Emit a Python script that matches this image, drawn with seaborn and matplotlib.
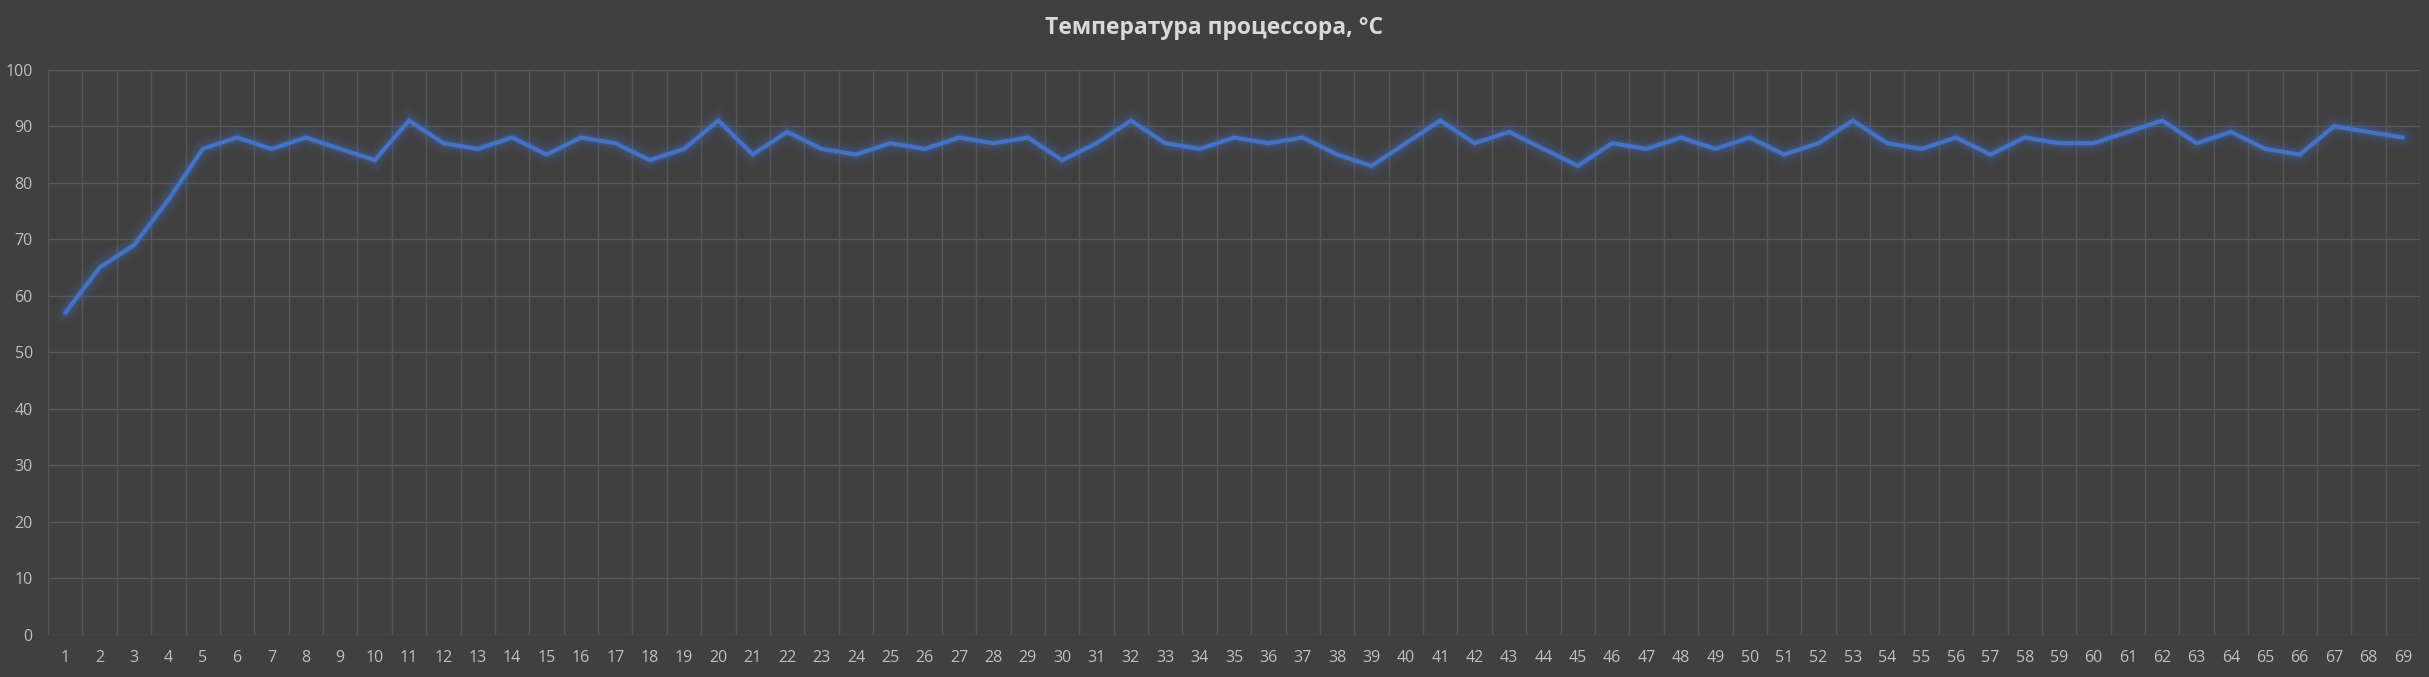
import matplotlib
matplotlib.use("Agg")
import matplotlib.pyplot as plt
import matplotlib.patheffects as pe
import seaborn as sns
import pandas as pd
import numpy as np

title = "Температура процессора, °C"
samples = list(range(1, 70))
temps = [57, 65, 69, 77, 86, 88, 86, 88, 86, 84,
         91, 87, 86, 88, 85, 88, 87, 84, 86, 91,
         85, 89, 86, 85, 87, 86, 88, 87, 88, 84,
         87, 91, 87, 86, 88, 87, 88, 85, 83, 87,
         91, 87, 89, 86, 83, 87, 86, 88, 86, 88,
         85, 87, 91, 87, 86, 88, 85, 88, 87, 87,
         89, 91, 87, 89, 86, 85, 90, 89, 88]
y_ticks = list(range(0, 101, 10))

df = pd.DataFrame({"n": samples, "t": temps})

sns.set_theme(style="dark")
plt.rcParams['font.family'] = ['Open Sans', 'DejaVu Sans']

BG = "#404040"
fig = plt.figure(figsize=(24.29, 6.77), dpi=100, facecolor=BG)
ax = fig.add_axes([0.0198, 0.062, 0.9765, 0.835])
ax.set_facecolor(BG)

line_color = "#4472C4"
sns.lineplot(data=df, x="n", y="t", ax=ax, color=line_color, linewidth=2.9)
ln = ax.lines[0]
ln.set_path_effects([
    pe.Stroke(linewidth=16, foreground=line_color, alpha=0.06),
    pe.Stroke(linewidth=12, foreground=line_color, alpha=0.08),
    pe.Stroke(linewidth=8, foreground=line_color, alpha=0.12),
    pe.Stroke(linewidth=5, foreground=line_color, alpha=0.2),
    pe.Normal(),
])
ln.set_solid_capstyle("round")
ln.set_solid_joinstyle("miter")

ax.set_xlim(0.5, 69.5)
ax.set_ylim(0, 100)
ax.set_xticks(samples)
ax.set_xticklabels([str(s) for s in samples])
ax.set_xticks(np.arange(0.5, 70, 1.0), minor=True)
ax.set_yticks(y_ticks)
ax.set_yticklabels([str(v) for v in y_ticks])

ax.grid(False)
ax.grid(which="minor", axis="x", color="#555555", linewidth=1.0)
ax.grid(which="major", axis="y", color="#585858", linewidth=1.0)
ax.set_axisbelow(True)

ax.tick_params(axis="both", which="both", length=0, colors="#bfbfbf", labelsize=11.5)
ax.tick_params(axis="x", pad=11)
ax.tick_params(axis="y", pad=11)
for s in ax.spines.values():
    s.set_visible(False)
ax.set_xlabel("")
ax.set_ylabel("")

fig.text(0.5, 1 - 28 / 677, title, ha="center", va="center",
         color="#d9d9d9", fontsize=16.5, fontweight="bold")

fig.savefig("out.png", dpi=100, facecolor=BG)
